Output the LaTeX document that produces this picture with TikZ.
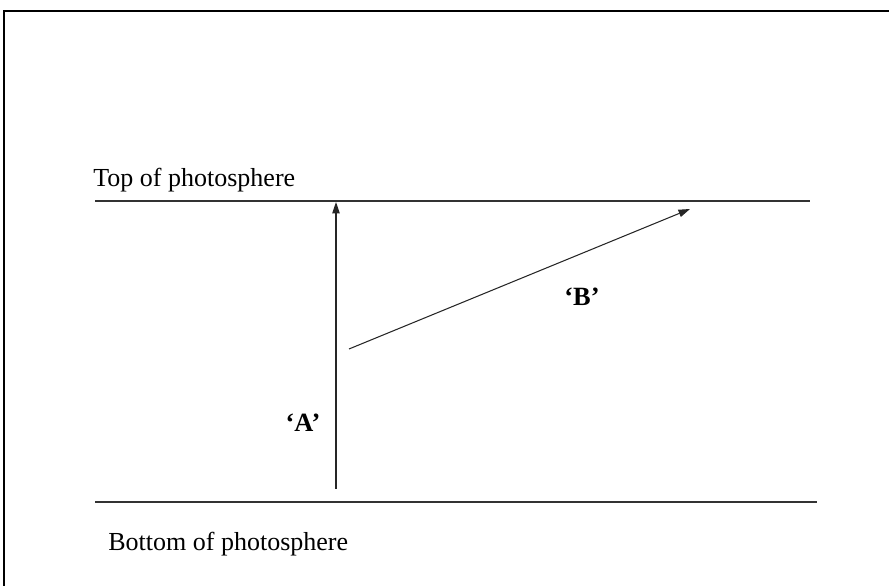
\documentclass[tikz,border=0pt]{standalone}
\usepackage{fontspec}
\setmainfont{Liberation Serif}
\usetikzlibrary{arrows.meta}
\tikzset{
  camada/.style={draw=black!80, line width=0.6pt},
  seta/.style={-{Triangle[length=2.3mm, width=1.5mm]}, draw=black!85, line width=0.6pt},
  rotulo/.style={font=\fontsize{14.8}{17}\selectfont, inner sep=0pt},
  rotuloraio/.style={font=\fontsize{15}{17}\selectfont\bfseries, inner sep=0pt},
}
\begin{document}
\begin{tikzpicture}
  \useasboundingbox (0,0) rectangle (17.78,11.72);
  % Moldura
  \draw[line width=1.2pt] (0.08,0) -- (0.08,11.5) -- (17.78,11.5);

  % Camadas
  \coordinate (topoE) at (1.9,7.7);
  \coordinate (topoD) at (16.2,7.7);
  \coordinate (baseE) at (1.9,1.68);
  \coordinate (baseD) at (16.34,1.68);
  \draw[camada] (topoE) -- (topoD);
  \draw[camada] (baseE) -- (baseD);
  \node[rotulo, anchor=base west] (topo) at (1.86,7.98) {Top of photosphere};
  \node[rotulo, anchor=base west] (base) at (2.16,0.70) {Bottom of photosphere};

  % Raio A: vertical
  \coordinate (A0) at (6.72,1.94);
  \coordinate (A1) at (6.72,7.68);
  \draw[seta] (A0) -- (A1);
  \node[rotuloraio] (A) at (6.06,3.26) {‘A’};

  % Raio B: inclinado
  \coordinate (B0) at (6.98,4.74);
  \coordinate (B1) at (13.8,7.54);
  \draw[seta] (B0) -- (B1);
  \node[rotuloraio] (B) at (11.64,5.78) {‘B’};
\end{tikzpicture}
\end{document}
